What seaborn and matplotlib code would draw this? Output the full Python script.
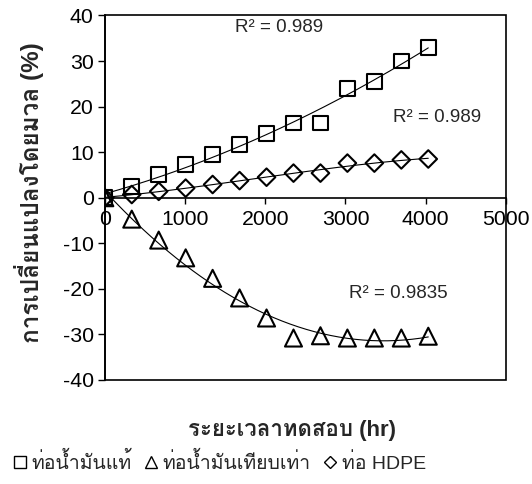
import numpy as np
import pandas as pd
import matplotlib
matplotlib.use("Agg")
import matplotlib.pyplot as plt
from matplotlib import font_manager
from matplotlib.ft2font import FT2Font
from matplotlib.lines import Line2D
import seaborn as sns

# ---- data ----
hours = [0, 336, 672, 1008, 1344, 1680, 2016, 2352, 2688, 3024, 3360, 3696, 4032]
real_pipe = [0, 2.5, 5.1, 7.3, 9.5, 11.7, 14.1, 16.4, 16.4, 23.9, 25.6, 30.0, 33.0]
equiv_pipe = [0, -4.7, -9.3, -13.2, -17.7, -22.0, -26.4, -30.8, -30.3, -30.8, -30.8, -30.8, -30.4]
hdpe_pipe = [0, 0.7, 1.4, 2.1, 2.9, 3.75, 4.5, 5.4, 5.4, 7.6, 7.6, 8.3, 8.5]
series_names = ["ท่อน้ำมันแท้", "ท่อน้ำมันเทียบเท่า", "ท่อ HDPE"]
r2_labels = ["0.989", "0.9835", "0.989"]
x_ticks = [0, 1000, 2000, 3000, 4000, 5000]
y_ticks = [-40, -30, -20, -10, 0, 10, 20, 30, 40]
x_label = "ระยะเวลาทดสอบ (hr)"
y_label = "การเปลี่ยนแปลงโดยมวล (%)"

sns.set_style("white")

# find a font with Thai glyphs
thai_family = None
for f in font_manager.fontManager.ttflist:
    try:
        cm = FT2Font(f.fname).get_charmap()
    except Exception:
        continue
    if 0x0E17 in cm and 0x0E19 in cm:
        thai_family = f.name
        break
families = ["Liberation Sans"]
if thai_family:
    families.append(thai_family)
families.append("DejaVu Sans")
plt.rcParams["font.family"] = families
plt.rcParams["axes.unicode_minus"] = False

fig = plt.figure(figsize=(5.32, 4.84), dpi=100)
ax = fig.add_axes([0.197, 0.215, 0.754, 0.753])

markers = ["s", "^", "D"]
msizes = [115, 150, 80]
all_y = [real_pipe, equiv_pipe, hdpe_pipe]
xfine = np.linspace(0, max(hours), 200)
degs = [2, 2, 3]
for ys, mk, ms, dg in zip(all_y, markers, msizes, degs):
    coef = np.polyfit(hours, ys, dg)
    fit = np.polyval(coef, xfine)
    sns.lineplot(x=xfine, y=fit, ax=ax, color="black", linewidth=0.8, zorder=2)
    sns.scatterplot(x=hours, y=ys, ax=ax, marker=mk, s=ms, facecolor="none",
                    edgecolor="black", linewidth=1.5, zorder=3)

ax.set_xlim(0, 5000)
ax.set_ylim(-40, 40)
ax.set_xticks(x_ticks)
ax.set_yticks(y_ticks)
ax.tick_params(axis="both", labelsize=15.3, colors="black")
ax.tick_params(axis="x", direction="out", length=4, width=1, pad=5)
ax.tick_params(axis="y", direction="out", length=5, width=1, pad=3, left=True)
ax.tick_params(axis="x", bottom=True)

ax.spines["bottom"].set_position(("data", 0))
for s in ["left", "bottom"]:
    ax.spines[s].set_color("black")
    ax.spines[s].set_linewidth(1.2)
for s in ["top", "right"]:
    ax.spines[s].set_visible(False)
ax.patch.set_edgecolor("black")
ax.patch.set_linewidth(1.2)
ax.patch.set_facecolor("white")

ax.set_xlabel("")
ax.set_ylabel("")

r2_pos = [(1620, 37.3), (3050, -21), (3590, 17.6)]
for (tx, ty), lab in zip(r2_pos, r2_labels):
    ax.text(tx, ty, "R² = " + lab, fontsize=13.5, va="center", ha="left")

fig.text(0.548, 0.11, x_label, fontsize=16, ha="center", va="center", fontweight="bold")
fig.text(0.055, 0.603, y_label, fontsize=17.5, ha="center", va="center", rotation=90, fontweight="bold")

handles = [Line2D([], [], marker=m, linestyle="none", markersize=ms, markerfacecolor="none",
                  markeredgecolor="black", markeredgewidth=1.0)
           for m, ms in zip(markers, [8, 8, 6.5])]
fig.legend(handles, series_names, loc="center", bbox_to_anchor=(0.41, 0.045), ncol=3,
           frameon=False, fontsize=14, handletextpad=0.1, columnspacing=0.5, handlelength=1.0)

fig.savefig("out.png", dpi=100)
